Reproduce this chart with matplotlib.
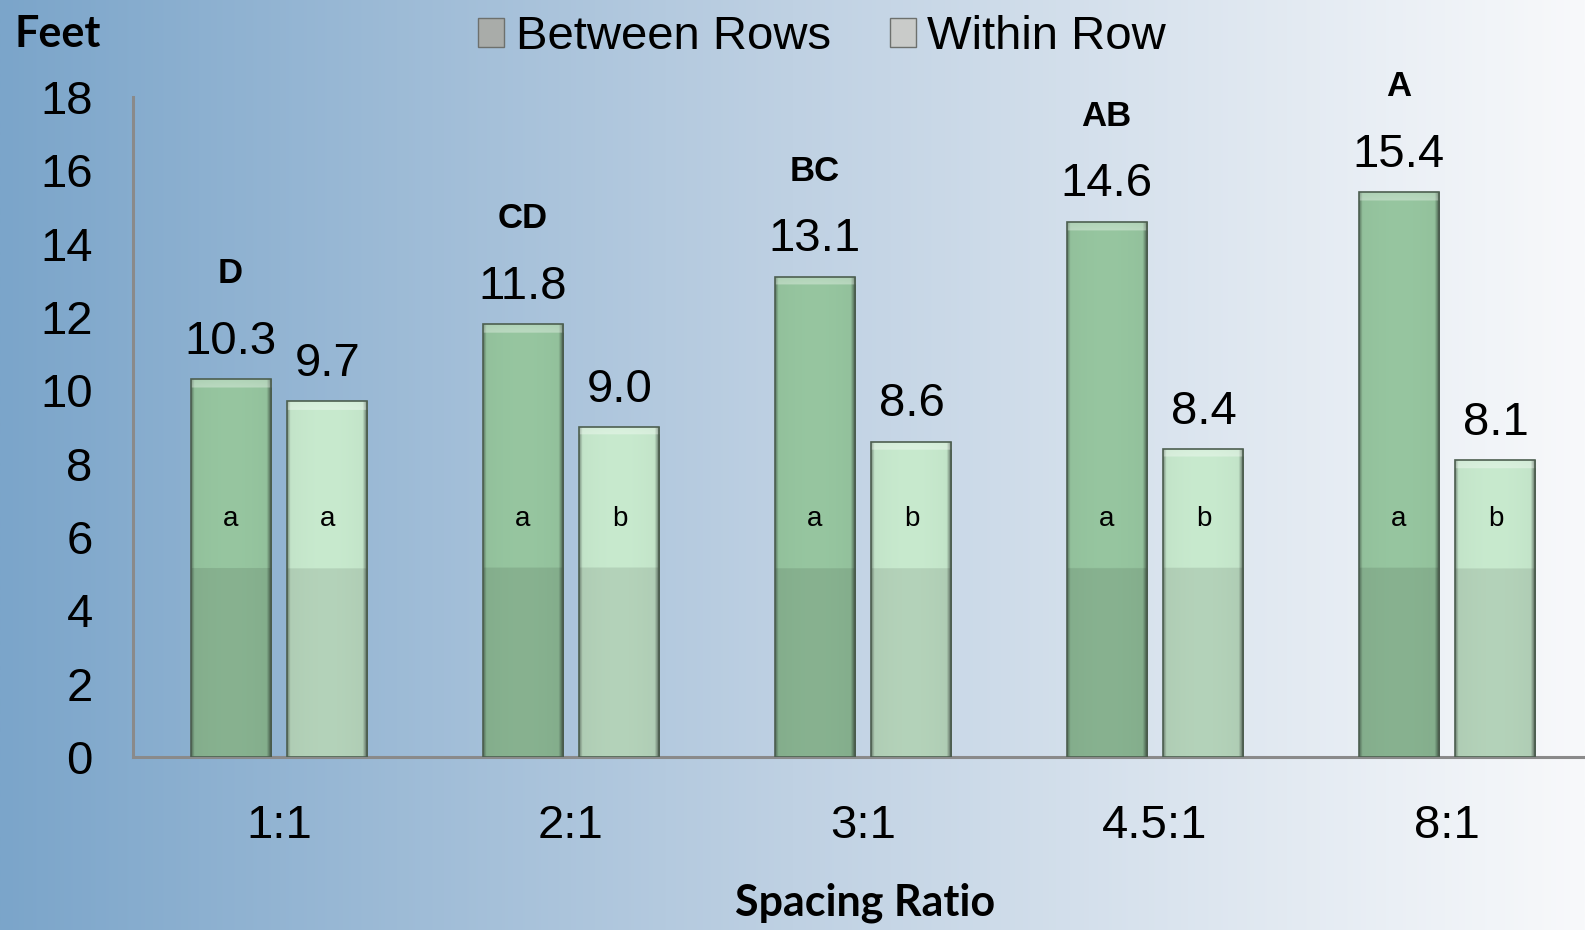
import numpy as np
import matplotlib
matplotlib.use("Agg")
import matplotlib.pyplot as plt
from matplotlib.patches import Patch
from matplotlib.colors import to_rgb

# ---- data -------------------------------------------------------------
ratios = ["1:1", "2:1", "3:1", "4.5:1", "8:1"]
between_rows = [10.3, 11.8, 13.1, 14.6, 15.4]
within_row = [9.7, 9.0, 8.6, 8.4, 8.1]
between_groups = ["D", "CD", "BC", "AB", "A"]
between_letters = ["a", "a", "a", "a", "a"]
within_letters = ["a", "b", "b", "b", "b"]
yticks = [0, 2, 4, 6, 8, 10, 12, 14, 16, 18]

W, H, DPI = 1585, 930, 100
fig = plt.figure(figsize=(W / DPI, H / DPI), dpi=DPI)

# ---- blue-to-white backdrop ------------------------------------------
bg = fig.add_axes([0, 0, 1, 1], zorder=-10)
bg.set_axis_off()
left_c = np.array(to_rgb("#7ba5ca"))
mid_c = np.array(to_rgb("#bfd1e3"))
right_c = np.array(to_rgb("#f8f9fb"))
t = np.linspace(0, 1, 600)[:, None]
grad = np.where(t < 0.5,
                left_c + (mid_c - left_c) * (t / 0.5),
                mid_c + (right_c - mid_c) * ((t - 0.5) / 0.5))
bg.imshow(grad[None, :, :], aspect="auto", extent=[0, 1, 0, 1])
bg.set_xlim(0, 1)
bg.set_ylim(0, 1)

# ---- main axes ---------------------------------------------------------
ax = fig.add_axes([133 / W, 1 - 757 / H, 1 - 133 / W, (757 - 97) / H])
ax.patch.set_alpha(0)
x = np.arange(len(ratios))
bw = 0.274
off = 0.166
ax.set_xlim(-0.5, -0.5 + (W - 133) / 292)
ax.set_ylim(0, 18)

b1 = ax.bar(x - off, between_rows, bw, color="#8cbb95", edgecolor="none", zorder=2)
b2 = ax.bar(x + off, within_row, bw, color="#bcdfc2", edgecolor="none", zorder=2)


def shade_bar(patch, base, split=5.15):
    """Paint a glassy green fill over a bar patch."""
    x0, w, h = patch.get_x(), patch.get_width(), patch.get_height()
    ny, nx = 400, 80
    ys = np.linspace(0, h, ny)[:, None]
    xs = np.linspace(0, 1, nx)[None, :]
    col = np.array(to_rgb(base))
    # horizontal shading: dark rim on both sides, darker on right
    hs = 1.0 - 0.35 * np.clip(1 - xs / 0.04, 0, 1) - 0.55 * np.clip((xs - 0.94) / 0.06, 0, 1)
    hs = hs + 0.03 * np.sin(xs * np.pi)
    # lower band slightly darker
    vs = np.where(ys < split, 0.9, 1.0)
    img = col[None, None, :] * (hs * vs)[:, :, None]
    # top bevel highlight
    top_band = ys > h - 0.22
    hl = np.clip((ys - (h - 0.22)) / 0.22, 0, 1)
    img = np.where(top_band[:, :, None],
                   img + (1 - img) * 0.35 * (1 - hl[:, :, None] * 0.3), img)
    img = np.clip(img, 0, 1)
    im = ax.imshow(img[::-1], extent=[x0, x0 + w, 0, h], aspect="auto",
                   zorder=3, interpolation="bilinear")
    im.set_clip_path(patch)
    ax.add_patch(plt.Rectangle((x0, 0), w, h, fill=False,
                               edgecolor="#4d5f50", linewidth=1.2, zorder=4))


for p in b1:
    shade_bar(p, "#92c09b")
for p in b2:
    shade_bar(p, "#c2e3c8")

# ---- labels on bars ----------------------------------------------------
for xi, v, g, s in zip(x - off, between_rows, between_groups, between_letters):
    ax.annotate(f"{v:.1f}", (xi, v), xytext=(0, 27), textcoords="offset points",
                ha="center", va="center", fontsize=34, family="Liberation Sans")
    ax.annotate(g, (xi, v), xytext=(0, 76), textcoords="offset points",
                ha="center", va="center", fontsize=25, fontweight="bold",
                family="Liberation Sans")
    ax.text(xi, 6.5, s, ha="center", va="center", fontsize=20,
            family="Liberation Sans", zorder=5)
for xi, v, s in zip(x + off, within_row, within_letters):
    ax.annotate(f"{v:.1f}", (xi, v), xytext=(0, 27), textcoords="offset points",
                ha="center", va="center", fontsize=34, family="Liberation Sans")
    ax.text(xi, 6.5, s, ha="center", va="center", fontsize=20,
            family="Liberation Sans", zorder=5)

# ---- axes styling ------------------------------------------------------
for side in ("top", "right"):
    ax.spines[side].set_visible(False)
for side in ("left", "bottom"):
    ax.spines[side].set_color("#8a8a8a")
    ax.spines[side].set_linewidth(2.2)
ax.set_yticks(yticks)
ax.set_yticklabels([str(v) for v in yticks], fontsize=34, family="Liberation Sans")
ax.set_xticks(x)
ax.set_xticklabels(ratios, fontsize=34, family="Liberation Sans")
ax.tick_params(axis="y", length=0, pad=29)
ax.tick_params(axis="x", length=0, pad=34)

fig.text(15 / W, 1 - 34 / H, "Feet", fontsize=31, fontweight="bold",
         family="Lato", ha="left", va="center")
fig.text(865 / W, 1 - 903 / H, "Spacing Ratio", fontsize=31, fontweight="bold",
         family="Lato", ha="center", va="center")

handles = [Patch(facecolor="#a9aca9", edgecolor="#6d706d", label="Between Rows"),
           Patch(facecolor="#c9cbc9", edgecolor="#6d706d", label="Within Row")]
fig.legend(handles=handles, loc="center", bbox_to_anchor=(822 / W, 1 - 37 / H),
           ncol=2, frameon=False, prop={"family": "Liberation Sans", "size": 34},
           handlelength=0.55, handleheight=0.55, handletextpad=0.25,
           columnspacing=1.25, borderpad=0)

fig.savefig("out.png", dpi=DPI)
